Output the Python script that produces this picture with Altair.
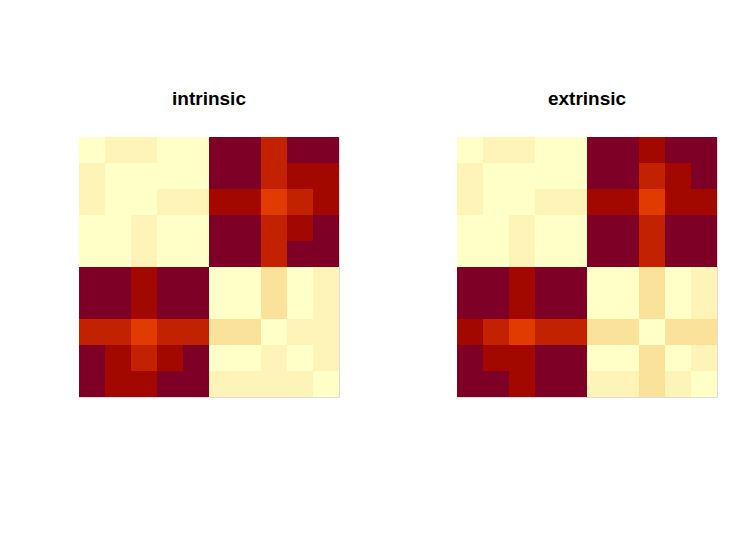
import altair as alt
import pandas as pd

# level codes per cell (row 0 = top), 0 = lightest, 6 = darkest
intrinsic = [
    [0, 1, 1, 0, 0, 6, 6, 4, 6, 6],
    [1, 0, 0, 0, 0, 6, 6, 4, 5, 5],
    [1, 0, 0, 1, 1, 5, 5, 3, 4, 5],
    [0, 0, 1, 0, 0, 6, 6, 4, 5, 6],
    [0, 0, 1, 0, 0, 6, 6, 4, 6, 6],
    [6, 6, 5, 6, 6, 0, 0, 2, 0, 1],
    [6, 6, 5, 6, 6, 0, 0, 2, 0, 1],
    [4, 4, 3, 4, 4, 2, 2, 0, 1, 1],
    [6, 5, 4, 5, 6, 0, 0, 1, 0, 1],
    [6, 5, 5, 6, 6, 1, 1, 1, 1, 0],
]
extrinsic = [
    [0, 1, 1, 0, 0, 6, 6, 5, 6, 6],
    [1, 0, 0, 0, 0, 6, 6, 4, 5, 6],
    [1, 0, 0, 1, 1, 5, 5, 3, 5, 5],
    [0, 0, 1, 0, 0, 6, 6, 4, 6, 6],
    [0, 0, 1, 0, 0, 6, 6, 4, 6, 6],
    [6, 6, 5, 6, 6, 0, 0, 2, 0, 1],
    [6, 6, 5, 6, 6, 0, 0, 2, 0, 1],
    [5, 4, 3, 4, 4, 2, 2, 0, 2, 2],
    [6, 5, 5, 6, 6, 0, 0, 2, 0, 1],
    [6, 6, 5, 6, 6, 1, 1, 2, 1, 0],
]
level_domain = [0, 1, 2, 3, 4, 5, 6]
level_colors = ["#FFFFC8", "#FFF4B7", "#FAE29B", "#E13B00", "#C32200", "#A30800", "#7E0027"]
panel_titles = ["intrinsic", "extrinsic"]


def to_df(grid):
    rows = []
    for r, vals in enumerate(grid):
        for c, v in enumerate(vals):
            rows.append({"row": r, "row2": r + 1, "col": c, "col2": c + 1, "level": v})
    return pd.DataFrame(rows)


def panel(grid, title):
    n = len(grid)
    return (
        alt.Chart(to_df(grid))
        .mark_rect(strokeWidth=0, opacity=1)
        .encode(
            x=alt.X("col:Q", axis=None, scale=alt.Scale(domain=[0, n], nice=False, zero=False)),
            x2="col2:Q",
            y=alt.Y("row:Q", axis=None,
                    scale=alt.Scale(domain=[0, n], nice=False, zero=False, reverse=True)),
            y2="row2:Q",
            color=alt.Color(
                "level:O",
                scale=alt.Scale(domain=level_domain, range=level_colors),
                legend=None,
            ),
        )
        .properties(
            width=260,
            height=260,
            title=alt.TitleParams(
                title, fontSize=19, font="Liberation Sans", fontWeight="bold",
                color="black", offset=28,
            ),
        )
    )


chart = (
    alt.hconcat(panel(intrinsic, panel_titles[0]), panel(extrinsic, panel_titles[1]), spacing=116)
    .properties(padding={"left": 70, "top": 81, "right": 10, "bottom": 10})
    .configure_view(strokeWidth=0, clip=False)
    .configure(background="white")
)

chart.save("out.html", embed_options={"renderer": "svg", "actions": False})
